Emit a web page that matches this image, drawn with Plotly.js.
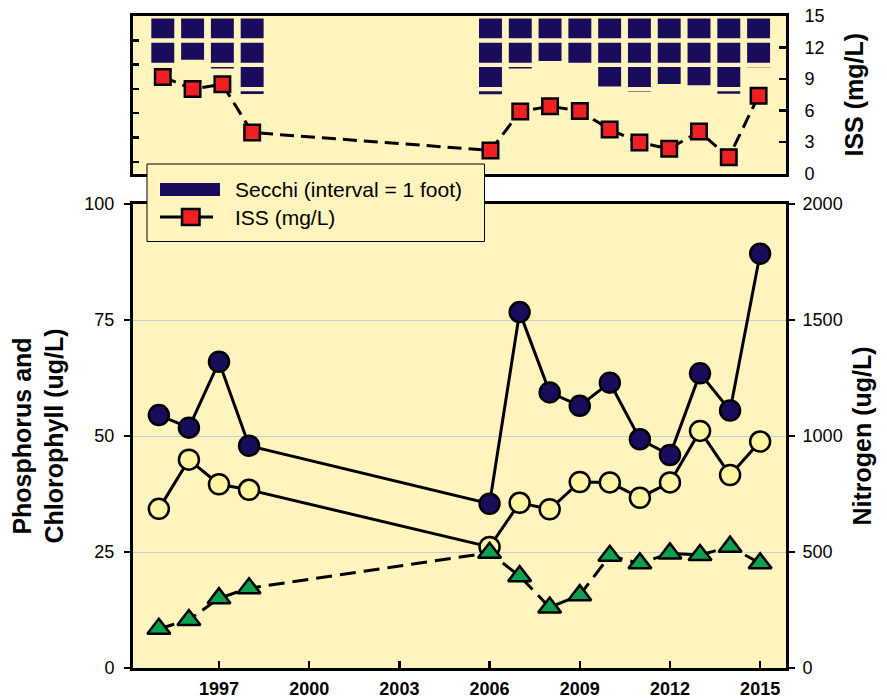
<!DOCTYPE html>
<html>
<head>
<meta charset="utf-8">
<script src="https://cdn.plot.ly/plotly-3.0.1.min.js"></script>
<style>
  html, body { margin: 0; padding: 0; background: #ffffff; }
  #chart { width: 887px; height: 700px; }
</style>
</head>
<body>
<div id="chart"></div>
<script>
// ---------------- data ----------------
const years       = [1995, 1996, 1997, 1998, 2006, 2007, 2008, 2009, 2010, 2011, 2012, 2013, 2014, 2015];
const phosphorus  = [54.5, 51.8, 66.0, 47.9, 35.4, 76.7, 59.4, 56.5, 61.5, 49.3, 45.9, 63.5, 55.5, 89.3];
const chlorophyll = [34.3, 44.9, 39.6, 38.4, 26.1, 35.6, 34.2, 40.1, 40.0, 36.7, 40.0, 51.1, 41.6, 48.8];
const nitrogen    = [169, 207, 301, 344, 497, 396, 261, 314, 484, 451, 494, 487, 523, 451];
const iss         = [9.2, 8.05, 8.5, 3.9, 2.2, 5.9, 6.4, 5.95, 4.2, 2.95, 2.35, 4.0, 1.55, 7.4];
const secchiFeet  = [2.0, 1.8, 2.16, 3.21, 3.22, 2.16, 1.85, 2.0, 2.9, 3.12, 2.8, 2.85, 3.2, 2.11];
const xTickVals   = [1997, 2000, 2003, 2006, 2009, 2012, 2015];
const leftTicks   = [0, 25, 50, 75, 100];
const nitroTicks  = [0, 500, 1000, 1500, 2000];
const issTicks    = [0, 3, 6, 9, 12, 15];

// ---------------- style ----------------
const FONT = 'Liberation Sans, Arial, Helvetica, sans-serif';
const BG = '#FFF4BD';
const NAVY = '#1A0C5C';
const CHL = '#FFF4A0';
const RED = '#EE2024';
const GREEN = '#0DA04E';
const LW = 3;

// pixel helpers for the hand-built legend (plot area: x 133..786, y 16..668)
const PX = p => (p - 133) / 653;
const PY = p => (668 - p) / 652;

const traces = [];

// Secchi: one bar layer per 1-foot interval, drawn from the top down
const SEG_TOP = 0.1, SEG_BOT = 0.92;
for (let k = 0; k < 4; k++) {
  traces.push({
    type: 'bar', x: years,
    base: years.map(() => k + SEG_TOP),
    y: secchiFeet.map(d => Math.max(0, Math.min(k + SEG_BOT, d) - (k + SEG_TOP))),
    width: 0.77,
    marker: { color: NAVY, line: { width: 0 } },
    xaxis: 'x2', yaxis: 'y3', showlegend: false, hoverinfo: 'skip'
  });
}
// ISS
traces.push({
  type: 'scatter', mode: 'lines+markers', x: years, y: iss,
  line: { color: '#000', width: LW, dash: '14px,7px' },
  marker: { symbol: 'square', size: 15.5, color: RED, line: { color: '#000', width: 2.5 } },
  xaxis: 'x2', yaxis: 'y4', showlegend: false
});
// Phosphorus
traces.push({
  type: 'scatter', mode: 'lines+markers', x: years, y: phosphorus,
  line: { color: '#000', width: LW },
  marker: { symbol: 'circle', size: 20, color: NAVY, line: { color: '#000', width: 2.5 } },
  xaxis: 'x', yaxis: 'y', showlegend: false
});
// Chlorophyll
traces.push({
  type: 'scatter', mode: 'lines+markers', x: years, y: chlorophyll,
  line: { color: '#000', width: LW },
  marker: { symbol: 'circle', size: 20, color: CHL, line: { color: '#000', width: 2.5 } },
  xaxis: 'x', yaxis: 'y', showlegend: false
});
// Nitrogen
traces.push({
  type: 'scatter', mode: 'lines+markers', x: years, y: nitrogen,
  line: { color: '#000', width: LW, dash: '16px,8px' },
  marker: { symbol: 'triangle-up', size: 20, color: GREEN, line: { color: '#000', width: 2.5 } },
  xaxis: 'x', yaxis: 'y2', showlegend: false
});

const tickFont = { family: FONT, size: 18, color: '#000' };
const titleFont = { family: FONT, size: 25, color: '#000', weight: 'bold' };
const lineCommon = { showline: true, linecolor: '#000', linewidth: LW, zeroline: false };

const botTop = PY(204), topBot = PY(173.5);

const layout = {
  width: 887, height: 700,
  margin: { l: 133, r: 101, t: 16, b: 32, pad: 0 },
  paper_bgcolor: '#ffffff',
  plot_bgcolor: BG,
  showlegend: false,
  barmode: 'overlay',
  font: { family: FONT, color: '#000' },
  xaxis: Object.assign({}, lineCommon, {
    domain: [0, 1], anchor: 'y', range: [1994.14, 2015.86], mirror: true,
    tickmode: 'array', tickvals: xTickVals, ticktext: xTickVals.map(String),
    ticks: 'inside', ticklen: 7, tickwidth: 2.5, tickcolor: '#000',
    tickfont: { family: FONT, size: 18, color: '#000', weight: 'bold' },
    ticklabelstandoff: 2, showgrid: false
  }),
  yaxis: Object.assign({}, lineCommon, {
    domain: [0, botTop], anchor: 'x', range: [0, 100], mirror: true,
    tickmode: 'array', tickvals: leftTicks, ticktext: leftTicks.map(String),
    ticks: 'outside', ticklen: 6, tickwidth: 2.5, tickcolor: '#000',
    tickfont: tickFont, ticklabelstandoff: 6,
    showgrid: true, gridcolor: '#C9CCDB', gridwidth: 1,
    title: { text: 'Phosphorus and<br>Chlorophyll (ug/L)', font: titleFont, standoff: 14 }
  }),
  yaxis2: Object.assign({}, lineCommon, {
    overlaying: 'y', side: 'right', anchor: 'x', range: [0, 2000],
    tickmode: 'array', tickvals: nitroTicks, ticktext: nitroTicks.map(String),
    ticks: 'outside', ticklen: 6, tickwidth: 2.5, tickcolor: '#000',
    tickfont: tickFont, ticklabelstandoff: 4, showgrid: false,
    title: { text: 'Nitrogen (ug/L)', font: titleFont, standoff: 12 }
  }),
  xaxis2: Object.assign({}, lineCommon, {
    domain: [0, 1], anchor: 'y3', range: [1994.0, 2015.92], mirror: true,
    showticklabels: false, ticks: '', showgrid: false
  }),
  yaxis3: Object.assign({}, lineCommon, {
    domain: [topBot, 1], anchor: 'x2', range: [6.48, 0], mirror: true,
    tickmode: 'linear', tick0: 0, dtick: 1,
    ticks: 'inside', ticklen: 6, tickwidth: 2.5, tickcolor: '#000',
    showticklabels: false, showgrid: false
  }),
  yaxis4: Object.assign({}, lineCommon, {
    overlaying: 'y3', side: 'right', anchor: 'x2', range: [0, 15],
    tickmode: 'array', tickvals: issTicks, ticktext: issTicks.map(String),
    ticks: 'inside', ticklen: 7, tickwidth: 2.5, tickcolor: '#000',
    tickfont: tickFont, ticklabelstandoff: 12, showgrid: false,
    title: { text: 'ISS (mg/L)', font: titleFont, standoff: 22 }
  }),
  shapes: [
    // legend box
    { type: 'rect', xref: 'paper', yref: 'paper', layer: 'above',
      x0: PX(147), x1: PX(484.5), y0: PY(164), y1: PY(241.5),
      fillcolor: BG, line: { color: '#000', width: 1 } },
    // Secchi swatch
    { type: 'rect', xref: 'paper', yref: 'paper', layer: 'above',
      x0: PX(160), x1: PX(220), y0: PY(183), y1: PY(196),
      fillcolor: NAVY, line: { width: 0 } },
    // ISS swatch line
    { type: 'line', xref: 'paper', yref: 'paper', layer: 'above',
      x0: PX(160), x1: PX(213), y0: PY(217), y1: PY(217),
      line: { color: '#000', width: LW } },
    // ISS swatch square
    { type: 'rect', xref: 'paper', yref: 'paper', layer: 'above',
      x0: PX(182), x1: PX(199.5), y0: PY(209), y1: PY(225),
      fillcolor: RED, line: { color: '#000', width: 2.5 } }
  ],
  annotations: [
    { xref: 'paper', yref: 'paper', x: PX(233), y: PY(189.5), xanchor: 'left', yanchor: 'middle',
      text: 'Secchi (interval = 1 foot)', showarrow: false,
      font: { family: FONT, size: 21, color: '#000' } },
    { xref: 'paper', yref: 'paper', x: PX(233), y: PY(217), xanchor: 'left', yanchor: 'middle',
      text: 'ISS (mg/L)', showarrow: false,
      font: { family: FONT, size: 21, color: '#000' } }
  ]
};

Plotly.newPlot('chart', traces, layout, { staticPlot: true, displayModeBar: false });
</script>
</body>
</html>
